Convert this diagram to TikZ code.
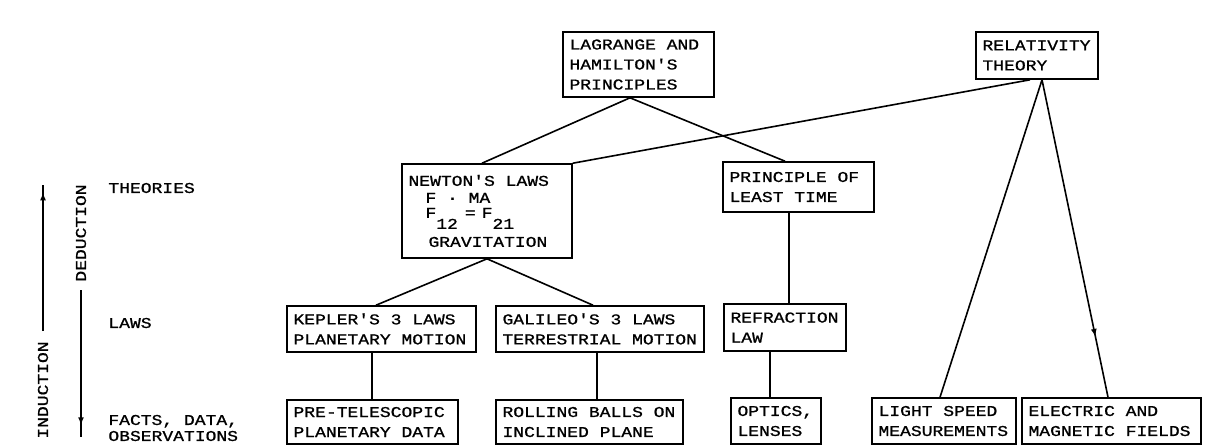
\documentclass[tikz,border=0pt]{standalone}
\usepackage{fontspec}
\newfontfamily\pix[FakeStretch=1.2,FakeBold=1]{Liberation Mono}
\usetikzlibrary{calc,arrows.meta,decorations.markings}
\begin{document}
\begin{tikzpicture}[x=0.5pt,y=-0.5pt,
  every node/.style={font=\pix\fontsize{7.5}{10}\selectfont,
    execute at begin node={\spaceskip=5.4pt\relax\xspaceskip=5.4pt\relax}},
  box/.style={draw, line width=0.8pt, inner xsep=3.25pt, inner ysep=0pt, text width=#1, align=left},
  conn/.style={line width=0.8pt},
  lbl/.style={inner sep=0pt, align=left},
  midtip/.style={postaction={decorate}, decoration={markings, mark=at position #1 with {\arrow{Latex[length=4pt,width=3pt]}}}}
]
\useasboundingbox (0,0) rectangle (1213,446);

% boxes
\node[box=69pt, minimum height=32.5pt] (lag) at (638.5,64.5) {LAGRANGE AND\\HAMILTON'S\\PRINCIPLES};
\node[box=54.5pt, minimum height=23.5pt] (rel) at (1037,55.5) {RELATIVITY\\THEORY};
\node[box=78.5pt, minimum height=47pt] (newt) at (487,211) {NEWTON'S LAWS\\[-1.5pt]\hspace*{8.5pt}F · MA\\[-2.5pt]\hspace*{8.5pt}F\raisebox{-5.5pt}{12}\hspace{3.5pt}=\hspace{3pt}F\raisebox{-5.5pt}{21}\\[3pt]\hspace*{10pt}GRAVITATION};
\node[box=69pt, minimum height=25pt] (plt) at (798.5,187) {PRINCIPLE OF\\LEAST TIME};
\node[box=88pt, minimum height=23pt] (kep) at (381.5,329) {KEPLER'S 3 LAWS\\PLANETARY MOTION};
\node[box=97.5pt, minimum height=23pt] (gal) at (600,329) {GALILEO'S 3 LAWS\\TERRESTRIAL MOTION};
\node[box=54.5pt, minimum height=23.5pt] (refr) at (785,327.5) {REFRACTION\\LAW};
\node[box=79pt, minimum height=22pt] (pre) at (372.5,422) {PRE-TELESCOPIC\\PLANETARY DATA};
\node[box=87pt, minimum height=22pt] (roll) at (589.5,422) {ROLLING BALLS ON\\INCLINED PLANE};
\node[box=38.5pt, minimum height=23pt] (opt) at (776,421) {OPTICS,\\LENSES};
\node[box=65.5pt, minimum height=23pt] (light) at (944,421) {LIGHT SPEED\\MEASUREMENTS};
\node[box=83pt, minimum height=23pt] (elec) at (1111.5,421) {ELECTRIC AND\\MAGNETIC FIELDS};

% connectors
\coordinate (lagJ) at ($(lag.south)+(-8.5,0)$);
\draw[conn] (lagJ) -- ($(newt.north)+(-5,0)$);
\draw[conn] (lagJ) -- ($(plt.north)+(-13.5,0)$);
\draw[conn] ($(rel.south)+(-7,0)$) -- (newt.north east);
\coordinate (relJ) at ($(rel.south)+(5,0)$);
\draw[conn] (relJ) -- ($(light.north)+(-4,0)$);
\draw[conn, midtip=0.81] (relJ) -- ($(elec.north)+(-3.5,0)$);
\draw[conn] (newt.south) -- ($(kep.north)+(-5.5,0)$);
\draw[conn] (newt.south) -- ($(gal.north)+(-7,0)$);
\coordinate (pltB) at ($(plt.south)+(-9.5,0)$);
\draw[conn] (pltB) -- (pltB |- refr.north);
\coordinate (preT) at ($(pre.north)+(-0.5,0)$);
\draw[conn] (preT |- kep.south) -- (preT);
\coordinate (rollT) at ($(roll.north)+(7.5,0)$);
\draw[conn] (rollT |- gal.south) -- (rollT);
\coordinate (optT) at ($(opt.north)+(-6,0)$);
\draw[conn] (optT |- refr.south) -- (optT);

% left side
\node[rotate=90, inner sep=0pt] (ind) at (43,390) {INDUCTION};
\node[rotate=90, inner sep=0pt] (ded) at (81,233) {DEDUCTION};
\coordinate (indTop) at (43,185);
\coordinate (dedBot) at (81,437);
\draw[conn, midtip=0.95] ($(ind.east)+(0,-10)$) -- (indTop);
\draw[conn, midtip=0.92] ($(ded.west)+(0,8)$) -- (dedBot);

\node[lbl, anchor=west] (th) at (108,188) {THEORIES};
\node[lbl, anchor=west] (laws) at (108,323) {LAWS};
\node[lbl, anchor=west] (facts) at (108,428) {FACTS, DATA,\\[-2pt]OBSERVATIONS};
\end{tikzpicture}
\end{document}
